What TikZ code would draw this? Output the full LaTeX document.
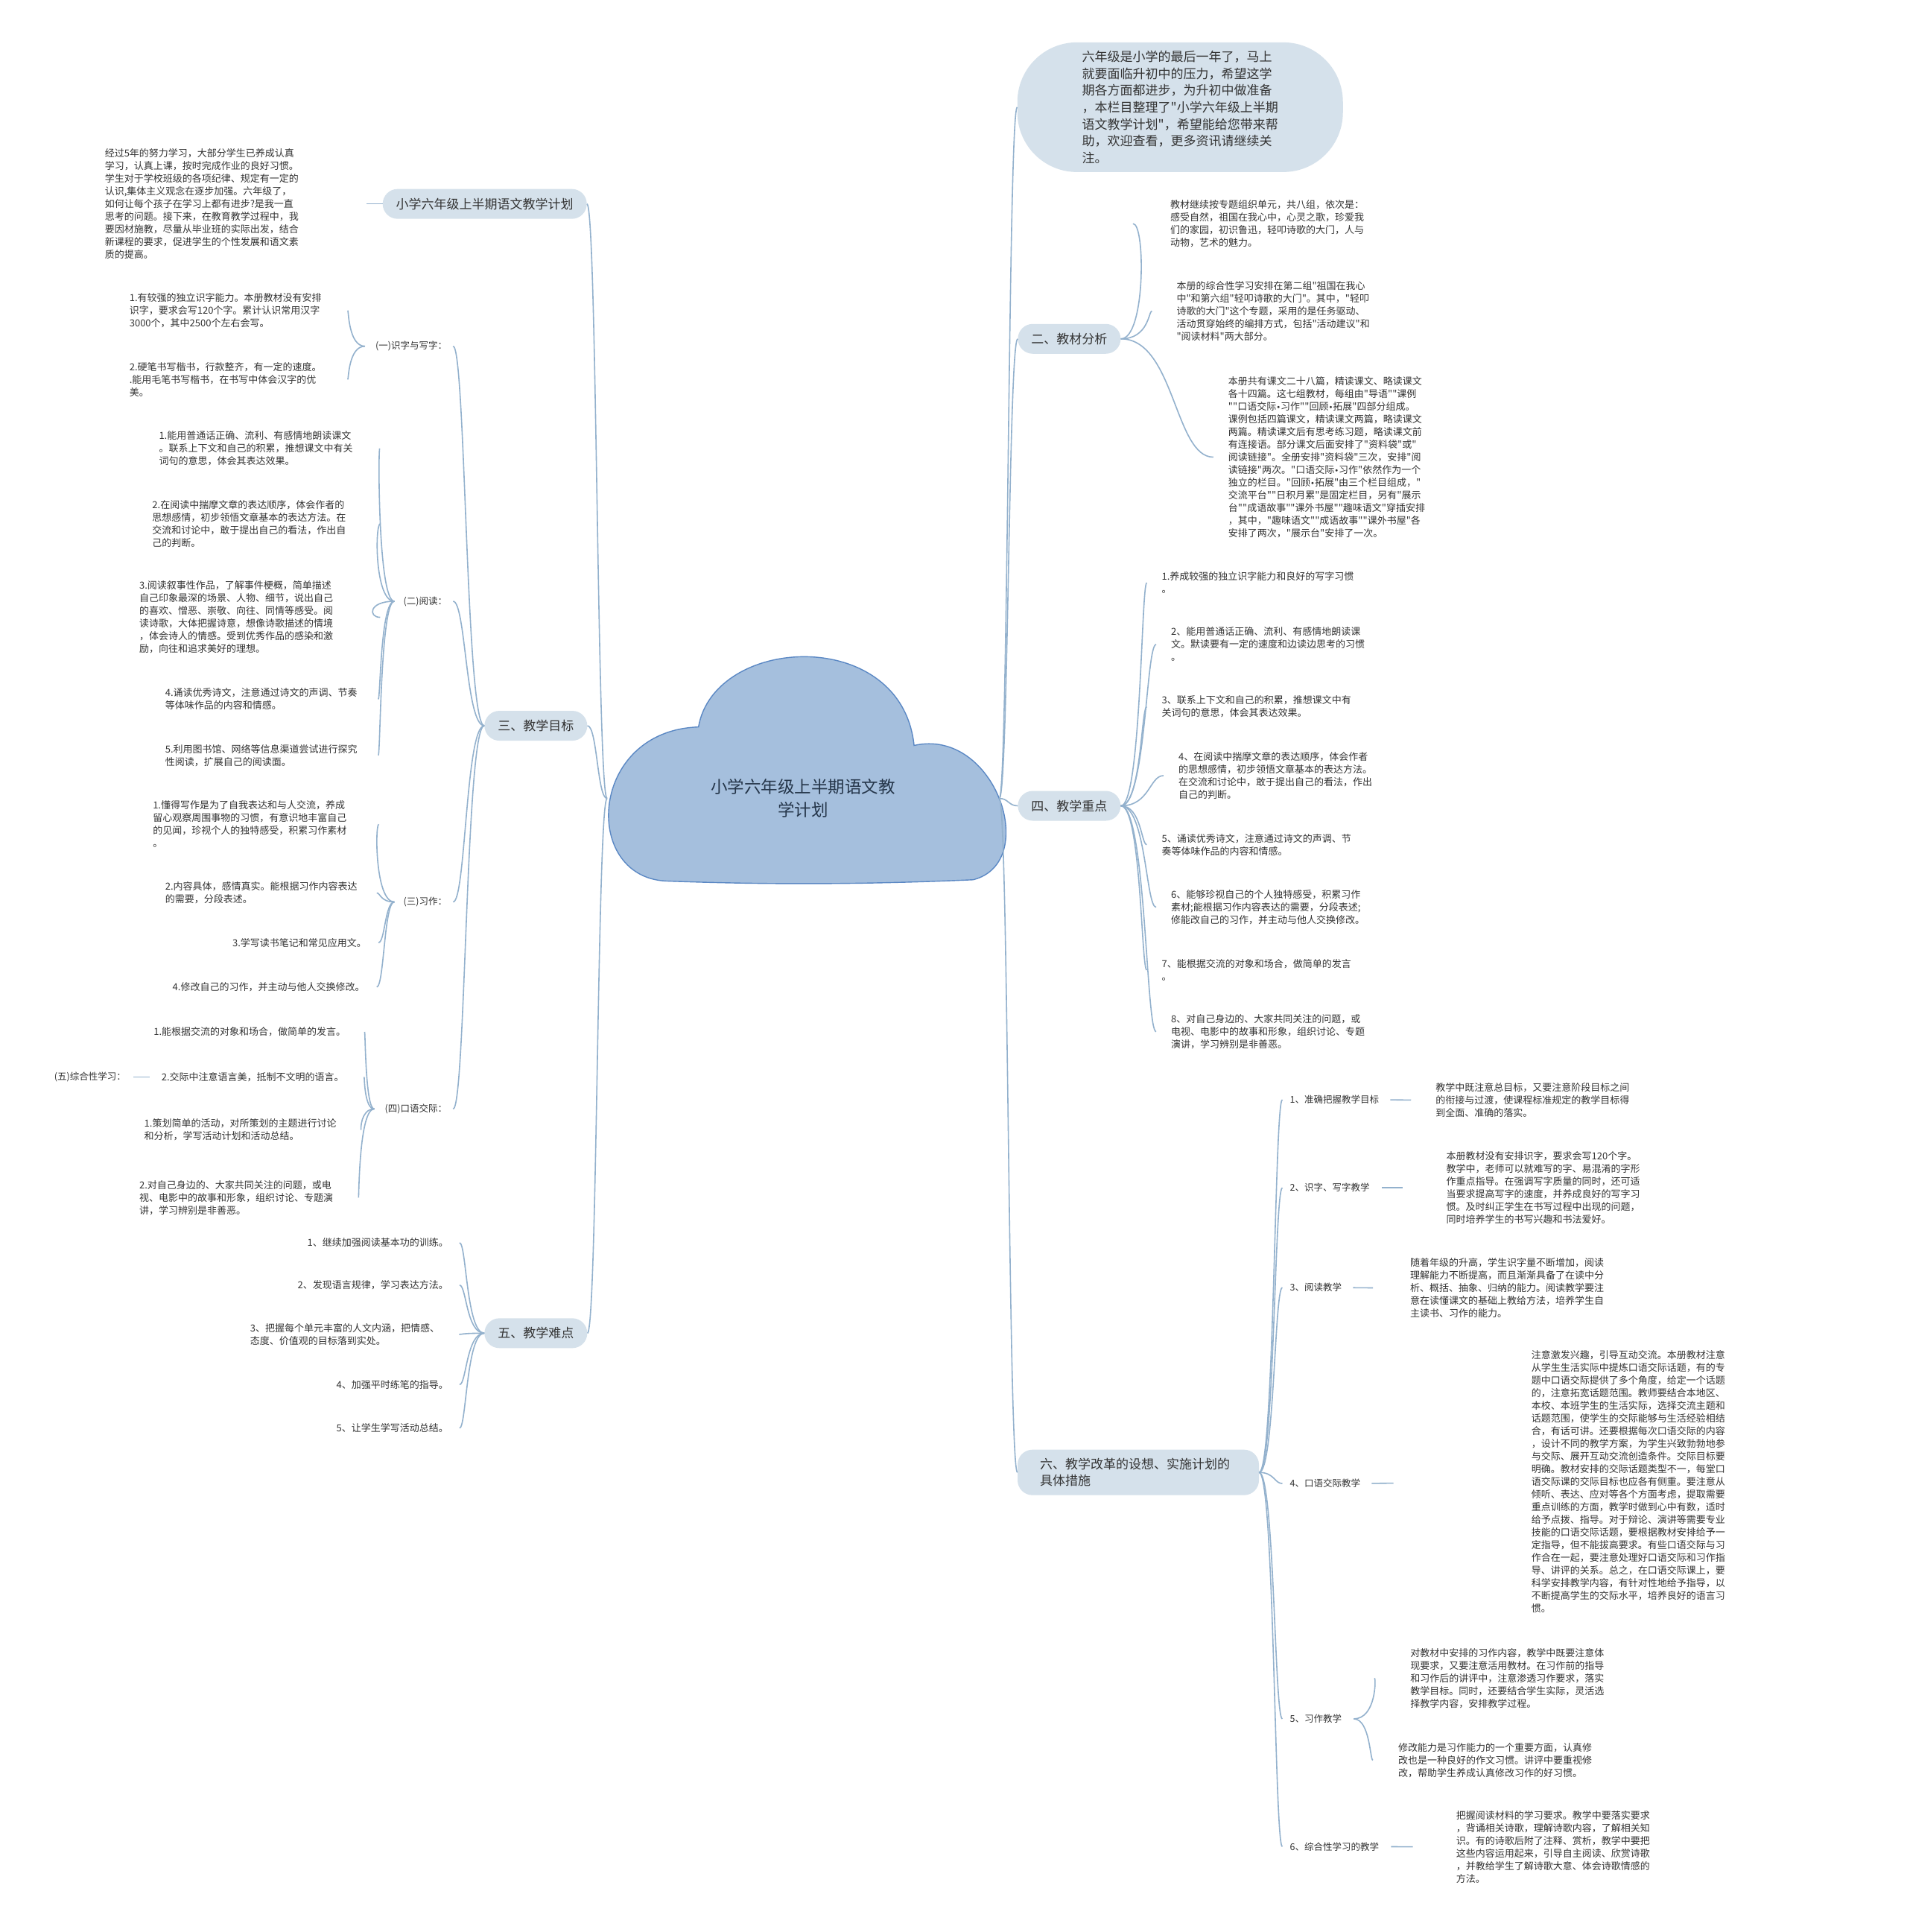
\documentclass[tikz,border=0pt]{standalone}
\usepackage{fontspec}
\setmainfont{Noto Sans CJK SC}
\newfontfamily\dotfont{DejaVu Sans}
\usepackage{xcolor}
\usepackage{tikz}
\usetikzlibrary{calc}

\definecolor{linec}{HTML}{93B1CD}
\definecolor{pillc}{HTML}{D5E1EB}
\definecolor{cloudc}{HTML}{A5BFDD}
\definecolor{cloudedge}{HTML}{5B88C4}
\definecolor{inkc}{HTML}{333333}
\definecolor{rootink}{HTML}{25364A}

% straight quote glyph, kept out of the TeX mapping
\newcommand{\qmk}{\XeTeXglyph\XeTeXcharglyph"22\relax}
\newcommand{\midbul}{{\dotfont\fontsize{10}{10}\selectfont •}}

\begin{document}
\begin{tikzpicture}[
    x=1.6537pt,
    y=-1.6537pt,
    rootnode/.style={
        align=center,
        inner sep=0pt,
        minimum width=526pt,
        text=rootink,
        font={\fontsize{22.5}{31}\selectfont}
    },
    branch/.style={
        fill=pillc,
        rounded corners=20pt,
        inner xsep=18pt,
        inner ysep=0pt,
        minimum height=40pt,
        text=inkc,
        font={\fontsize{17}{21.5}\selectfont}
    },
    bubble/.style={
        fill=pillc,
        rounded corners=80pt,
        minimum width=437pt,
        minimum height=174pt,
        align=left,
        text=inkc,
        font={\fontsize{17}{22.6}\selectfont}
    },
    leaf/.style={
        align=left,
        inner sep=0pt,
        text=inkc,
        font={\fontsize{13}{17}\selectfont}
    },
    tag/.style={
        inner sep=0pt,
        text=inkc,
        font={\fontsize{12.5}{16}\selectfont}
    },
    link/.style={
        draw=linec,
        line width=1.6pt
    },
    curvy/.style={
        to path={let \p1=(\tikztostart), \p2=(\tikztotarget) in
            .. controls ({(\x1+\x2)/2},\y1) and ({(\x1+\x2)/2},\y2) .. (\tikztotarget)}
    }
]

\path[fill=white] (0,0) rectangle (1548,1568);
\useasboundingbox (0,0) rectangle (1548,1568);

% cloud
\draw[fill=cloudc, draw=cloudedge, line width=1.4pt]
    (540,715) .. controls (472,711) and (478,593) .. (567,590)
    .. controls (580,515) and (732,508) .. (742,605)
    .. controls (808,590) and (845,700) .. (790,714)
    .. controls (700,718) and (620,718) .. (540,715) -- cycle;

\node[rootnode] (root) at (652,648)
{小学六年级上半期语文教\\学计划};

% main branches
\node[branch] (plan) at (393.5,165.5) {小学六年级上半期语文教学计划};
\node[branch] (goal) at (435,589) {三、教学目标};
\node[branch] (hard) at (435,1082) {五、教学难点};

\node[bubble] (intro) at (958,87)
{六年级是小学的最后一年了，马上\\就要面临升初中的压力，希望这学\\期各方面都进步，为升初中做准备\\，本栏目整理了\qmk 小学六年级上半期\\语文教学计划\qmk ，希望能给您带来帮\\助，欢迎查看，更多资讯请继续关\\注。};
\node[branch] (material) at (868,275) {二、教材分析};
\node[branch] (focus) at (868,654) {四、教学重点};
\node[branch, align=left, text width=264pt, inner xsep=30pt, inner ysep=9pt, minimum height=61pt] (reform) at (924,1195)
{六、教学改革的设想、实施计划的\\具体措施};

\draw[link] (root.west) to[curvy] (plan.east);
\draw[link] (root.west) to[curvy] (goal.east);
\draw[link] (root.west) to[curvy] (hard.east);
\draw[link] (root.east) to[curvy] (intro.west);
\draw[link] (root.east) to[curvy] (material.west);
\draw[link] (root.east) to[curvy] (focus.west);
\draw[link] (root.east) to[curvy] (reform.west);

% plan
\node[leaf, anchor=west] (planleaf) at (85,165.5)
{经过5年的努力学习，大部分学生已养成认真\\学习，认真上课，按时完成作业的良好习惯。\\学生对于学校班级的各项纪律、规定有一定的\\认识,集体主义观念在逐步加强。六年级了，\\如何让每个孩子在学习上都有进步?是我一直\\思考的问题。接下来，在教育教学过程中，我\\要因材施教，尽量从毕业班的实际出发，结合\\新课程的要求，促进学生的个性发展和语文素\\质的提高。};
\draw[link, shorten >=91pt] (plan.west) -- (planleaf.east);

% goals
\node[tag, anchor=east] (wordtag) at (363,281) {(一)识字与写字：};
\node[tag, anchor=east] (readtag) at (363,488) {(二)阅读：};
\node[tag, anchor=east] (writetag) at (363,732) {(三)习作：};
\node[tag, anchor=east] (talktag) at (363,900) {(四)口语交际：};

\draw[link, shorten >=8pt] (goal.west) to[curvy] (wordtag.east);
\draw[link, shorten >=8pt] (goal.west) to[curvy] (readtag.east);
\draw[link, shorten >=8pt] (goal.west) to[curvy] (writetag.east);
\draw[link, shorten >=8pt] (goal.west) to[curvy] (talktag.east);

\node[leaf, anchor=west] (word1) at (105,252)
{1.有较强的独立识字能力。本册教材没有安排\\识字，要求会写120个字。累计认识常用汉字\\3000个，其中2500个左右会写。};
\node[leaf, anchor=west] (word2) at (105,308)
{2.硬笔书写楷书，行款整齐，有一定的速度。\\.能用毛笔书写楷书，在书写中体会汉字的优\\美。};
\draw[link, shorten <=14pt, shorten >=35pt] (wordtag.west) to[curvy] (word1.east);
\draw[link, shorten <=14pt, shorten >=35pt] (wordtag.west) to[curvy] (word2.east);

\node[leaf, anchor=west] (read1) at (129,364)
{1.能用普通话正确、流利、有感情地朗读课文\\。联系上下文和自己的积累，推想课文中有关\\词句的意思，体会其表达效果。};
\node[leaf, anchor=west] (read2) at (123.5,425)
{2.在阅读中揣摩文章的表达顺序，体会作者的\\思想感情，初步领悟文章基本的表达方法。在\\交流和讨论中，敢于提出自己的看法，作出自\\己的判断。};
\node[leaf, anchor=west] (read3) at (113,501)
{3.阅读叙事性作品，了解事件梗概，简单描述\\自己印象最深的场景、人物、细节，说出自己\\的喜欢、憎恶、崇敬、向往、同情等感受。阅\\读诗歌，大体把握诗意，想像诗歌描述的情境\\，体会诗人的情感。受到优秀作品的感染和激\\励，向往和追求美好的理想。};
\node[leaf, anchor=west] (read4) at (134,567.5)
{4.诵读优秀诗文，注意通过诗文的声调、节奏\\等体味作品的内容和情感。};
\node[leaf, anchor=west] (read5) at (134,613)
{5.利用图书馆、网络等信息渠道尝试进行探究\\性阅读，扩展自己的阅读面。};
\draw[link, shorten <=12pt, shorten >=36pt] (readtag.west) to[curvy] (read1.east);
\draw[link, shorten <=12pt, shorten >=46pt] (readtag.west) to[curvy] (read2.east);
\draw[link, shorten <=12pt, shorten >=63pt] (readtag.west) to[curvy] (read3.east);
\draw[link, shorten <=12pt, shorten >=28pt] (readtag.west) to[curvy] (read4.east);
\draw[link, shorten <=12pt, shorten >=28pt] (readtag.west) to[curvy] (read5.east);

\node[leaf, anchor=west] (write1) at (124,669)
{1.懂得写作是为了自我表达和与人交流，养成\\留心观察周围事物的习惯，有意识地丰富自己\\的见闻，珍视个人的独特感受，积累习作素材\\。};
\node[leaf, anchor=west] (write2) at (134,724.7)
{2.内容具体，感情真实。能根据习作内容表达\\的需要，分段表述。};
\node[leaf, anchor=west] (write3) at (188.6,765)
{3.学写读书笔记和常见应用文。};
\node[leaf, anchor=west] (write4) at (140,801)
{4.修改自己的习作，并主动与他人交换修改。};
\draw[link, shorten <=12pt, shorten >=43pt] (writetag.west) to[curvy] (write1.east);
\draw[link, shorten <=12pt, shorten >=26pt] (writetag.west) to[curvy] (write2.east);
\draw[link, shorten <=12pt, shorten >=16pt] (writetag.west) to[curvy] (write3.east);
\draw[link, shorten <=12pt, shorten >=16pt] (writetag.west) to[curvy] (write4.east);

\node[leaf, anchor=west] (talk1) at (124.7,837.5)
{1.能根据交流的对象和场合，做简单的发言。};
\node[leaf, anchor=west] (talk2) at (131,874)
{2.交际中注意语言美，抵制不文明的语言。};
\node[leaf, anchor=west] (talk3) at (117,917)
{1.策划简单的活动，对所策划的主题进行讨论\\和分析，学写活动计划和活动总结。};
\node[leaf, anchor=west] (talk4) at (113,972)
{2.对自己身边的、大家共同关注的问题，或电\\视、电影中的故事和形象，组织讨论、专题演\\讲，学习辨别是非善恶。};
\draw[link, shorten <=14pt, shorten >=25pt] (talktag.west) to[curvy] (talk1.east);
\draw[link, shorten <=14pt, shorten >=27pt] (talktag.west) to[curvy] (talk2.east);
\draw[link, shorten <=14pt, shorten >=33pt] (talktag.west) to[curvy] (talk3.east);
\draw[link, shorten <=14pt, shorten >=34pt] (talktag.west) to[curvy] (talk4.east);

\node[tag, anchor=west] (studytag) at (44,874) {(五)综合性学习：};
\draw[link, shorten <=16pt, shorten >=10pt] (talk2.west) -- (studytag.east);

% difficulties
\node[leaf, anchor=east] (hard1) at (364,1008.6) {1、继续加强阅读基本功的训练。};
\node[leaf, anchor=east] (hard2) at (364,1043) {2、发现语言规律，学习表达方法。};
\node[leaf, anchor=east] (hard3) at (357,1083)
{3、把握每个单元丰富的人文内涵，把情感、\\态度、价值观的目标落到实处。};
\node[leaf, anchor=east] (hard4) at (364,1123.7) {4、加强平时练笔的指导。};
\node[leaf, anchor=east] (hard5) at (364,1159) {5、让学生学写活动总结。};
\draw[link, shorten >=15pt] (hard.west) to[curvy] (hard1.east);
\draw[link, shorten >=15pt] (hard.west) to[curvy] (hard2.east);
\draw[link, shorten >=26pt] (hard.west) to[curvy] (hard3.east);
\draw[link, shorten >=15pt] (hard.west) to[curvy] (hard4.east);
\draw[link, shorten >=15pt] (hard.west) to[curvy] (hard5.east);

% material
\node[leaf, anchor=west] (mat1) at (950,181.5)
{教材继续按专题组织单元，共八组，依次是：\\感受自然，祖国在我心中，心灵之歌，珍爱我\\们的家园，初识鲁迅，轻叩诗歌的大门，人与\\动物，艺术的魅力。};
\node[leaf, anchor=west] (mat2) at (955,252.4)
{本册的综合性学习安排在第二组\qmk 祖国在我心\\中\qmk 和第六组\qmk 轻叩诗歌的大门\qmk 。其中，\qmk 轻叩\\诗歌的大门\qmk 这个专题，采用的是任务驱动、\\活动贯穿始终的编排方式，包括\qmk 活动建议\qmk 和\\\qmk 阅读材料\qmk 两大部分。};
\node[leaf, anchor=west] (mat3) at (997,371)
{本册共有课文二十八篇，精读课文、略读课文\\各十四篇。这七组教材，每组由\qmk 导语\qmk\qmk 课例\\\qmk\qmk 口语交际\midbul 习作\qmk\qmk 回顾\midbul 拓展\qmk 四部分组成。\\课例包括四篇课文，精读课文两篇，略读课文\\两篇。精读课文后有思考练习题，略读课文前\\有连接语。部分课文后面安排了\qmk 资料袋\qmk 或\qmk\\阅读链接\qmk 。全册安排\qmk 资料袋\qmk 三次，安排\qmk 阅\\读链接\qmk 两次。\qmk 口语交际\midbul 习作\qmk 依然作为一个\\独立的栏目。\qmk 回顾\midbul 拓展\qmk 由三个栏目组成，\qmk\\交流平台\qmk\qmk 日积月累\qmk 是固定栏目，另有\qmk 展示\\台\qmk\qmk 成语故事\qmk\qmk 课外书屋\qmk\qmk 趣味语文\qmk 穿插安排\\，其中，\qmk 趣味语文\qmk\qmk 成语故事\qmk\qmk 课外书屋\qmk 各\\安排了两次，\qmk 展示台\qmk 安排了一次。};
\draw[link, shorten >=50pt] (material.east) to[curvy] (mat1.west);
\draw[link, shorten >=33pt] (material.east) to[curvy] (mat2.west);
\draw[link, shorten >=20pt] (material.east) to[curvy] (mat3.west);

% focus
\node[leaf, anchor=west] (focus1) at (943,473)
{1.养成较强的独立识字能力和良好的写字习惯\\。};
\node[leaf, anchor=west] (focus2) at (950.6,523)
{2、能用普通话正确、流利、有感情地朗读课\\文。默读要有一定的速度和边读边思考的习惯\\。};
\node[leaf, anchor=west] (focus3) at (943,573.6)
{3、联系上下文和自己的积累，推想课文中有\\关词句的意思，体会其表达效果。};
\node[leaf, anchor=west] (focus4) at (956.6,629.5)
{4、在阅读中揣摩文章的表达顺序，体会作者\\的思想感情，初步领悟文章基本的表达方法。\\在交流和讨论中，敢于提出自己的看法，作出\\自己的判断。};
\node[leaf, anchor=west] (focus5) at (943,685.5)
{5、诵读优秀诗文，注意通过诗文的声调、节\\奏等体味作品的内容和情感。};
\node[leaf, anchor=west] (focus6) at (950.6,736.3)
{6、能够珍视自己的个人独特感受，积累习作\\素材;能根据习作内容表达的需要，分段表述;\\修能改自己的习作，并主动与他人交换修改。};
\node[leaf, anchor=west] (focus7) at (943,787.3)
{7、能根据交流的对象和场合，做简单的发言\\。};
\node[leaf, anchor=west] (focus8) at (950.6,837.3)
{8、对自己身边的、大家共同关注的问题，或\\电视、电影中的故事和形象，组织讨论、专题\\演讲，学习辨别是非善恶。};
\draw[link, shorten >=20pt] (focus.east) to[curvy] (focus1.west);
\draw[link, shorten >=20pt] (focus.east) to[curvy] (focus2.west);
\draw[link, shorten >=20pt] (focus.east) to[curvy] (focus3.west);
\draw[link, shorten >=20pt] (focus.east) to[curvy] (focus4.west);
\draw[link, shorten >=20pt] (focus.east) to[curvy] (focus5.west);
\draw[link, shorten >=20pt] (focus.east) to[curvy] (focus6.west);
\draw[link, shorten >=20pt] (focus.east) to[curvy] (focus7.west);
\draw[link, shorten >=20pt] (focus.east) to[curvy] (focus8.west);

% reform measures
\node[tag, anchor=west] (act1) at (1047,892.5) {1、准确把握教学目标};
\node[tag, anchor=west] (act2) at (1047,964) {2、识字、写字教学};
\node[tag, anchor=west] (act3) at (1047,1045) {3、阅读教学};
\node[tag, anchor=west] (act4) at (1047,1204) {4、口语交际教学};
\node[tag, anchor=west] (act5) at (1047,1395) {5、习作教学};
\node[tag, anchor=west] (act6) at (1047,1498.7) {6、综合性学习的教学};
\draw[link, shorten >=10pt] (reform.east) to[curvy] (act1.west);
\draw[link, shorten >=10pt] (reform.east) to[curvy] (act2.west);
\draw[link, shorten >=10pt] (reform.east) to[curvy] (act3.west);
\draw[link, shorten >=10pt] (reform.east) to[curvy] (act4.west);
\draw[link, shorten >=10pt] (reform.east) to[curvy] (act5.west);
\draw[link, shorten >=10pt] (reform.east) to[curvy] (act6.west);

\node[leaf, anchor=west] (act1note) at (1165.4,893)
{教学中既注意总目标，又要注意阶段目标之间\\的衔接与过渡，使课程标准规定的教学目标得\\到全面、准确的落实。};
\node[leaf, anchor=west] (act2note) at (1174,964)
{本册教材没有安排识字，要求会写120个字。\\教学中，老师可以就难写的字、易混淆的字形\\作重点指导。在强调写字质量的同时，还可适\\当要求提高写字的速度，并养成良好的写字习\\惯。及时纠正学生在书写过程中出现的问题，\\同时培养学生的书写兴趣和书法爱好。};
\node[leaf, anchor=west] (act3note) at (1144.7,1045.5)
{随着年级的升高，学生识字量不断增加，阅读\\理解能力不断提高，而且渐渐具备了在读中分\\析、概括、抽象、归纳的能力。阅读教学要注\\意在读懂课文的基础上教给方法，培养学生自\\主读书、习作的能力。};
\node[leaf, anchor=west] (act4note) at (1243,1202.5)
{注意激发兴趣，引导互动交流。本册教材注意\\从学生生活实际中提炼口语交际话题，有的专\\题中口语交际提供了多个角度，给定一个话题\\的，注意拓宽话题范围。教师要结合本地区、\\本校、本班学生的生活实际，选择交流主题和\\话题范围，使学生的交际能够与生活经验相结\\合，有话可讲。还要根据每次口语交际的内容\\，设计不同的教学方案，为学生兴致勃勃地参\\与交际、展开互动交流创造条件。交际目标要\\明确。教材安排的交际话题类型不一，每堂口\\语交际课的交际目标也应各有侧重。要注意从\\倾听、表达、应对等各个方面考虑，提取需要\\重点训练的方面，教学时做到心中有数，适时\\给予点拨、指导。对于辩论、演讲等需要专业\\技能的口语交际话题，要根据教材安排给予一\\定指导，但不能拔高要求。有些口语交际与习\\作合在一起，要注意处理好口语交际和习作指\\导、讲评的关系。总之，在口语交际课上，要\\科学安排教学内容，有针对性地给予指导，以\\不断提高学生的交际水平，培养良好的语言习\\惯。};
\node[leaf, anchor=west] (act5a) at (1144.8,1362)
{对教材中安排的习作内容，教学中既要注意体\\现要求，又要注意活用教材。在习作前的指导\\和习作后的讲评中，注意渗透习作要求，落实\\教学目标。同时，还要结合学生实际，灵活选\\择教学内容，安排教学过程。};
\node[leaf, anchor=west] (act5b) at (1135,1428.6)
{修改能力是习作能力的一个重要方面，认真修\\改也是一种良好的作文习惯。讲评中要重视修\\改，帮助学生养成认真修改习作的好习惯。};
\node[leaf, anchor=west] (act6note) at (1182,1499)
{把握阅读材料的学习要求。教学中要落实要求\\，背诵相关诗歌，理解诗歌内容，了解相关知\\识。有的诗歌后附了注释、赏析，教学中要把\\这些内容运用起来，引导自主阅读、欣赏诗歌\\，并教给学生了解诗歌大意、体会诗歌情感的\\方法。};

\draw[link, shorten <=15pt, shorten >=33pt] (act1.east) -- (act1note.west);
\draw[link, shorten <=16pt, shorten >=58pt] (act2.east) -- (act2note.west);
\draw[link, shorten <=15pt, shorten >=50pt] (act3.east) -- (act3note.west);
\draw[link, shorten <=15pt, shorten >=185pt] (act4.east) -- (act4note.west);
\draw[link, shorten <=16pt, shorten >=48pt] (act5.east) to[curvy] (act5a.west);
\draw[link, shorten <=16pt, shorten >=34pt] (act5.east) to[curvy] (act5b.west);
\draw[link, shorten <=16pt, shorten >=58pt] (act6.east) -- (act6note.west);

\end{tikzpicture}
\end{document}
